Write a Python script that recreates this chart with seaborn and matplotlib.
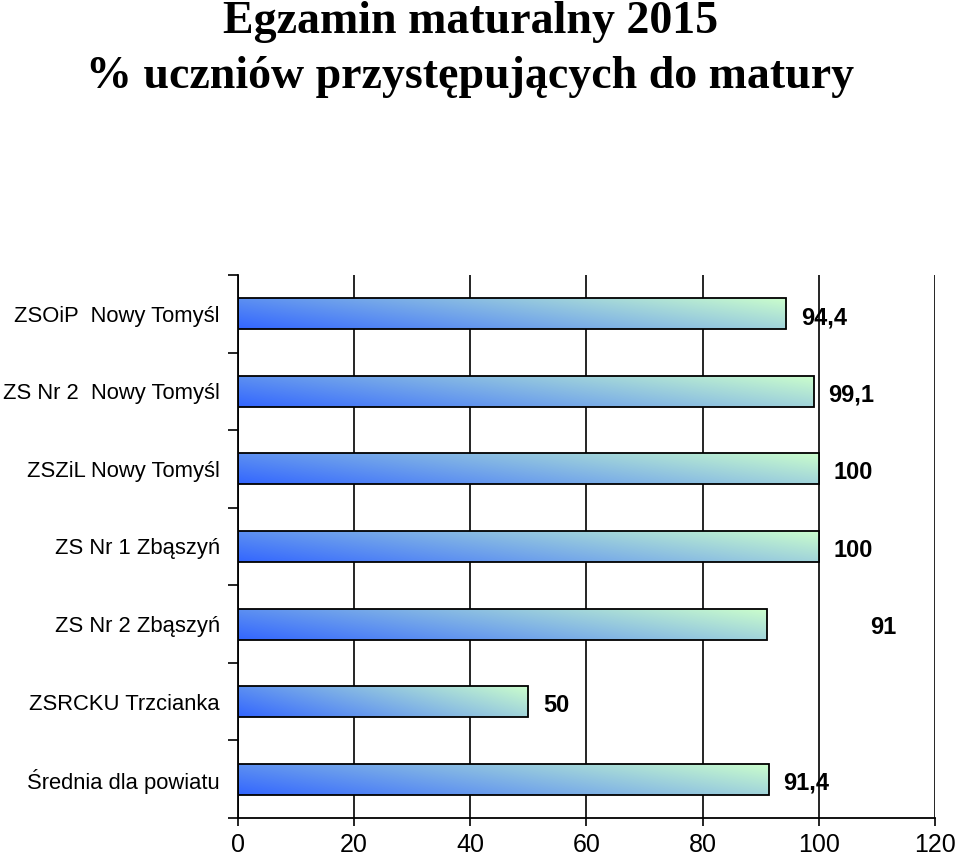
import numpy as np
import pandas as pd
import matplotlib
matplotlib.use('Agg')
import matplotlib.pyplot as plt
import seaborn as sns

# Data
schools = ['ZSOiP  Nowy Tomyśl', 'ZS Nr 2  Nowy Tomyśl', 'ZSZiL Nowy Tomyśl',
           'ZS Nr 1 Zbąszyń', 'ZS Nr 2 Zbąszyń', 'ZSRCKU Trzcianka', 'Średnia dla powiatu']
values = [94.4, 99.1, 100, 100, 91, 50, 91.4]
value_labels = ['94,4', '99,1', '100', '100', '91', '50', '91,4']
x_ticks = [0, 20, 40, 60, 80, 100, 120]

df = pd.DataFrame({'school': schools, 'value': values})

sns.set_style('white')
plt.rcParams['font.family'] = ['Liberation Sans', 'DejaVu Sans']
plt.rcParams['text.color'] = 'black'
plt.rcParams['xtick.color'] = 'black'
plt.rcParams['ytick.color'] = 'black'

fig = plt.figure(figsize=(9.6, 8.59), dpi=100)
ax = fig.add_axes([0.2479, 0.0477, 0.7260, 0.6322])

sns.barplot(data=df, x='value', y='school', orient='h', width=0.4,
            color='white', edgecolor='black', linewidth=1.3, ax=ax, zorder=3)

# gradient fill: deep blue bottom-left -> pale green top-right
blue = np.array([0.20, 0.40, 1.00])
green = np.array([0.80, 1.00, 0.80])
xf = np.linspace(0, 1, 200)[None, :]
yf = np.linspace(0, 1, 40)[:, None]
t = 0.72 * xf + 0.28 * (1 - yf)
grad = blue[None, None, :] * (1 - t[..., None]) + green[None, None, :] * t[..., None]

for p in ax.patches:
    x0, y0 = p.get_x(), p.get_y()
    w, h = p.get_width(), p.get_height()
    im = ax.imshow(grad, extent=[x0, x0 + w, y0, y0 + h], origin='lower',
                   aspect='auto', zorder=2.5, interpolation='bilinear')
    im.set_clip_path(p)
    p.set_facecolor('none')

# value labels
nudge = {4: 17.8}
for i, (v, lab) in enumerate(zip(values, value_labels)):
    ax.text(v + nudge.get(i, 2.5), i + 0.05, lab, va='center', ha='left',
            fontsize=17, fontweight='bold', color='black', zorder=4)

ax.set_xlim(0, 120)
ax.set_ylim(6.5, -0.5)
ax.set_xticks(x_ticks)
ax.set_xticklabels([str(t) for t in x_ticks], fontsize=18)
ax.set_yticks(range(len(schools)))
ax.set_yticklabels(schools, fontsize=15.8)
ax.set_yticks(np.arange(-0.5, len(schools), 1.0), minor=True)
ax.tick_params(axis='y', which='major', length=0, pad=13)
ax.tick_params(axis='y', which='minor', length=7, width=1.2, color='black', left=True)
ax.tick_params(axis='x', which='major', length=6, width=1.2, color='black',
               bottom=True, pad=5)
ax.set_xlabel('')
ax.set_ylabel('')

ax.xaxis.grid(True, color='black', linewidth=1.2, zorder=1)
ax.set_axisbelow(True)
for s in ['top', 'right']:
    ax.spines[s].set_visible(False)
for s in ['left', 'bottom']:
    ax.spines[s].set_color('black')
    ax.spines[s].set_linewidth(1.3)

fig.text(0.49, 0.9616, 'Egzamin maturalny 2015', ha='center', va='baseline',
         fontsize=33, fontweight='bold', family='Liberation Serif', color='black')
fig.text(0.49, 0.8976, '% uczniów przystępujących do matury', ha='center', va='baseline',
         fontsize=33, fontweight='bold', family='Liberation Serif', color='black')

fig.savefig('out.png', dpi=100)
